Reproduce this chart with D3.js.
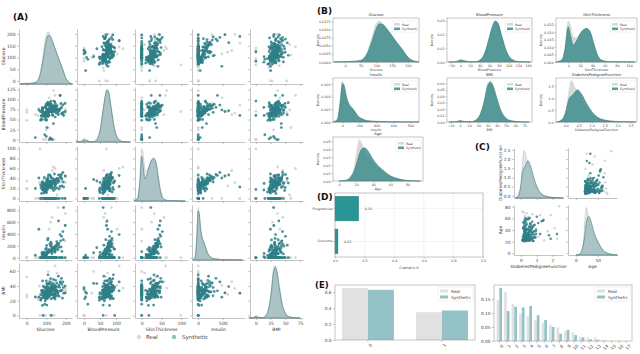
<!DOCTYPE html>
<html>
<head>
<meta charset="utf-8">
<script src="https://cdn.jsdelivr.net/npm/d3@7"></script>
<style>
  body { margin: 0; background: #fff; }
  svg { display: block; font-family: "DejaVu Sans", sans-serif; }
</style>
</head>
<body>
<svg id="chart" width="640" height="354"></svg>
<script>
// ---------- sample rows (synthetic) ----------
var synGlucose = [
  148, 85, 183, 89, 137, 116, 78, 115, 197, 125, 110, 168,
  139, 189, 166, 100, 118, 107, 103, 115, 126, 99, 196, 119,
  143, 125, 147, 97, 145, 117, 109, 158, 88, 92, 122, 103,
  138, 102, 90, 111, 180, 133, 106, 171, 159, 180, 146, 71,
  105, 103, 101, 88, 176, 150, 73, 187, 100, 146, 105, 84,
  133, 44, 141, 114, 99, 109, 109, 95, 146, 100, 139, 126,
  129, 79, 62, 95, 131, 112, 113, 74, 83, 101, 137, 110,
  106, 100, 136, 107, 80, 123, 81, 134, 142, 144, 92, 71,
  93, 122, 163, 151, 125, 81, 85, 126, 96, 144, 83, 95,
  171, 155, 89, 76, 160, 146, 124, 78, 97, 99, 162, 111,
  118, 132, 104, 127, 94, 152, 113, 141, 87, 119, 128, 108,
  135, 97, 121, 157, 102, 116, 130, 91, 174, 124, 106, 139,
  112, 144, 98, 129, 165, 109, 120, 86, 137, 101, 148, 117,
  126, 93, 154, 114, 131, 104, 178, 123, 96, 140, 110, 185
];
var synBP = [
  72, 66, 64, 66, 40, 74, 50, 0, 70, 96, 92, 74,
  80, 60, 72, 8, 84, 74, 30, 70, 88, 84, 90, 80,
  94, 70, 76, 66, 82, 92, 75, 76, 58, 12, 78, 60,
  76, 76, 68, 72, 64, 72, 92, 110, 64, 66, 56, 70,
  58, 60, 50, 66, 90, 66, 50, 68, 66, 90, 72, 60,
  84, 5, 84, 60, 70, 88, 92, 64, 74, 62, 80, 84,
  68, 75, 74, 80, 0, 62, 76, 58, 78, 48, 82, 64,
  64, 78, 70, 86, 80, 82, 72, 60, 84, 82, 62, 48,
  50, 90, 72, 84, 2, 76, 64, 74, 56, 70, 58, 82,
  110, 74, 66, 60, 68, 70, 76, 68, 64, 88, 62, 58,
  70, 78, 62, 74, 68, 82, 76, 72, 64, 86, 70, 66,
  74, 58, 80, 76, 68, 84, 72, 62, 78, 70, 88, 74,
  66, 72, 60, 80, 76, 70, 4, 64, 82, 68, 74, 78,
  72, 68, 84, 70, 62, 76, 80, 74, 66, 96, 70, 86
];
var synSkin = [
  35, 29, 0, 23, 35, 0, 32, 0, 45, 0, 0, 0,
  0, 23, 19, 0, 47, 0, 38, 30, 41, 0, 0, 35,
  33, 26, 0, 15, 19, 0, 0, 36, 11, 0, 31, 33,
  0, 37, 42, 47, 25, 0, 18, 24, 0, 39, 27, 27,
  0, 30, 12, 26, 41, 0, 21, 33, 0, 0, 28, 18,
  0, 20, 36, 0, 25, 42, 31, 13, 28, 26, 0, 41,
  29, 24, 41, 15, 0, 22, 32, 0, 22, 17, 16, 35,
  0, 27, 0, 39, 17, 44, 31, 22, 49, 28, 15, 0,
  14, 22, 47, 38, 0, 33, 28, 29, 19, 24, 0, 31,
  46, 21, 0, 10, 32, 30, 34, 25, 0, 13, 40, 23,
  28, 0, 33, 25, 19, 37, 0, 30, 21, 0, 34, 27,
  0, 18, 29, 36, 23, 0, 32, 15, 43, 26, 0, 38,
  24, 31, 0, 20, 35, 28, 0, 17, 39, 0, 30, 22,
  0, 26, 40, 33, 0, 21, 48, 29, 0, 35, 24, 52
];
var synInsulin = [
  0, 0, 0, 94, 168, 0, 88, 0, 543, 0, 0, 0,
  0, 846, 175, 0, 230, 0, 83, 96, 235, 0, 0, 0,
  146, 115, 0, 140, 110, 0, 0, 245, 54, 0, 192, 0,
  0, 207, 70, 0, 0, 0, 0, 0, 0, 105, 0, 0,
  0, 71, 36, 0, 180, 0, 0, 304, 0, 0, 110, 0,
  0, 40, 0, 0, 0, 325, 0, 38, 0, 70, 0, 200,
  64, 0, 480, 36, 0, 0, 135, 0, 44, 0, 0, 0,
  0, 160, 0, 300, 15, 260, 62, 0, 180, 120, 0, 0,
  18, 0, 620, 210, 0, 76, 0, 135, 0, 90, 0, 60,
  390, 150, 0, 0, 130, 0, 100, 50, 0, 45, 210, 0,
  120, 0, 85, 0, 48, 190, 0, 155, 0, 0, 140, 78,
  0, 55, 0, 220, 0, 0, 165, 0, 285, 0, 0, 175,
  90, 0, 0, 125, 240, 0, 0, 42, 0, 0, 195, 0,
  0, 66, 270, 0, 100, 0, 360, 0, 0, 145, 0, 440
];
var synBMI = [
  33.6, 26.6, 23.3, 28.1, 43.1, 25.6, 31.0, 35.3, 30.5, 0, 37.6, 38.0,
  27.1, 30.1, 25.8, 30.0, 45.8, 29.6, 43.3, 34.6, 39.3, 35.4, 39.8, 29.0,
  36.6, 31.1, 39.4, 23.2, 22.2, 34.1, 36.0, 31.6, 24.8, 15.2, 27.6, 24.0,
  33.2, 32.9, 38.2, 37.1, 34.0, 40.2, 22.7, 45.4, 27.4, 42.0, 29.7, 28.0,
  39.1, 14.0, 24.2, 24.4, 33.7, 34.7, 23.0, 37.7, 46.8, 40.5, 41.5, 0,
  32.9, 25.0, 25.4, 32.8, 29.0, 32.5, 55.0, 19.6, 28.9, 32.9, 28.6, 43.4,
  35.1, 32.0, 24.7, 32.6, 37.7, 43.2, 25.0, 22.4, 29.3, 24.6, 48.8, 32.4,
  36.6, 38.5, 37.1, 26.5, 13.5, 32.0, 46.7, 23.8, 24.7, 33.9, 31.6, 20.4,
  28.7, 49.7, 39.0, 26.1, 22.5, 26.6, 39.6, 28.7, 22.4, 29.5, 34.3, 37.4,
  33.3, 34.0, 31.2, 34.0, 30.5, 31.2, 34.0, 33.7, 28.2, 23.2, 53.2, 34.2,
  30.8, 28.4, 33.5, 36.2, 26.9, 38.1, 31.4, 35.0, 27.3, 32.2, 40.7, 29.9,
  34.5, 25.6, 37.3, 31.8, 29.2, 42.6, 33.0, 28.8, 44.1, 30.3, 36.8, 27.8,
  32.6, 39.5, 26.2, 35.7, 41.2, 29.5, 31.9, 24.3, 37.9, 33.4, 47.5, 28.1,
  35.9, 27.0, 43.8, 30.7, 34.8, 26.4, 50.2, 32.1, 29.0, 38.6, 31.5, 45.3
];
var synDPF = [
  0.627, 0.351, 0.672, 0.167, 2.288, 0.201, 0.248, 0.134, 0.158, 0.232, 0.191, 0.537,
  1.441, 0.398, 0.587, 0.484, 0.551, 0.254, 0.183, 0.529, 0.704, 0.388, 0.451, 0.263,
  0.254, 0.205, 0.257, 0.487, 0.245, 0.337, 0.546, 0.851, 0.267, 0.188, 0.512, 0.966,
  0.420, 0.665, 0.503, 1.390, 0.271, 0.696, 0.235, 0.721, 0.294, 1.893, 0.564, 0.586,
  0.344, 0.305, 0.491, 0.526, 0.342, 0.467, 0.718, 0.254, 0.962, 1.781, 0.173, 0.304,
  0.270, 0.699, 0.258, 0.203, 0.855, 0.845, 0.334, 0.189, 0.867, 0.411, 0.583, 0.231,
  0.396, 0.140, 0.391, 0.370, 0.270, 0.307, 0.140, 0.102, 0.767, 0.237, 0.227, 0.698,
  0.178, 0.324, 0.153, 0.165, 0.258, 0.443, 0.261, 0.277, 0.761, 0.255, 0.130, 0.323,
  0.356, 0.325, 1.222, 0.179, 0.262, 0.283, 0.930, 0.801, 0.207, 0.287, 0.336, 0.247,
  0.199, 0.543, 0.192, 0.391, 0.588, 0.539, 0.220, 0.654, 0.443, 0.223, 0.759, 0.260,
  0.412, 0.285, 0.631, 0.358, 0.219, 0.744, 0.465, 0.318, 0.572, 0.269, 0.938, 0.402,
  0.527, 0.246, 0.381, 0.695, 0.302, 1.102, 0.448, 0.213, 0.617, 0.356, 0.489, 0.829,
  0.338, 0.562, 0.274, 0.431, 1.315, 0.292, 0.503, 0.186, 0.658, 0.372, 0.541, 0.241,
  0.467, 0.315, 0.782, 0.392, 0.256, 0.603, 1.012, 0.344, 0.229, 0.518, 0.426, 0.879
];
var synAge = [
  50, 31, 32, 21, 33, 30, 26, 29, 53, 54, 30, 34,
  57, 59, 51, 32, 31, 31, 33, 32, 27, 50, 41, 29,
  51, 41, 43, 22, 57, 38, 60, 28, 22, 28, 45, 33,
  35, 46, 27, 56, 26, 37, 48, 54, 40, 25, 29, 22,
  31, 24, 22, 26, 30, 58, 42, 21, 41, 31, 44, 22,
  39, 36, 24, 42, 32, 38, 54, 25, 27, 28, 26, 42,
  23, 22, 22, 41, 27, 26, 24, 22, 36, 22, 37, 27,
  45, 26, 43, 24, 21, 34, 42, 60, 21, 40, 24, 22,
  23, 31, 33, 22, 21, 24, 27, 21, 27, 37, 25, 24,
  24, 46, 23, 25, 39, 61, 38, 25, 22, 21, 25, 24,
  28, 35, 24, 42, 26, 33, 29, 47, 23, 31, 38, 25,
  36, 22, 30, 44, 27, 52, 32, 24, 39, 29, 34, 48,
  26, 40, 23, 33, 55, 28, 31, 22, 43, 27, 37, 25,
  32, 24, 46, 29, 35, 23, 63, 30, 26, 41, 28, 49
];

// ---------- sample rows (real, mostly hidden under synthetic) ----------
var realGlucose = [0, 0, 44, 57, 62, 65, 68, 199, 197, 196, 198, 0, 84, 95, 129, 137, 145, 155, 100, 110, 120, 130, 90, 105, 160, 175, 115, 125, 140, 87, 99, 108, 122, 150, 112, 134];
var realBP = [74, 68, 62, 60, 78, 72, 70, 76, 70, 90, 66, 48, 0, 0, 0, 122, 110, 74, 24, 30, 0, 62, 68, 74, 86, 88, 104, 76, 0, 58, 64, 72, 70, 78, 66, 80];
var realSkin = [20, 35, 0, 0, 0, 32, 99, 43, 45, 0, 32, 20, 0, 0, 0, 63, 60, 7, 0, 0, 0, 56, 30, 28, 0, 33, 0, 26, 0, 38, 17, 0, 25, 0, 35, 30];
var realInsulin = [0, 0, 0, 0, 0, 0, 0, 0, 543, 280, 744, 0, 0, 0, 0, 0, 0, 0, 0, 0, 0, 680, 0, 0, 846, 0, 480, 0, 0, 0, 0, 0, 600, 0, 135, 0];
var realBMI = [27.7, 52.3, 24.6, 21.7, 25.2, 39.6, 0, 33.6, 30.5, 39.8, 36.6, 24.7, 0, 0, 0, 37.0, 67.1, 57.3, 30.0, 59.4, 0, 45.7, 34.3, 30.1, 30.1, 48.3, 40.6, 31.0, 0, 28.0, 35.0, 38.0, 28.4, 29.3, 34.1, 36.2];
var realDPF = [0.299, 0.405, 0.254, 0.735, 0.218, 0.261, 2.42, 0.383, 0.158, 0.451, 1.476, 0.143, 0.26, 0.328, 0.42, 0.18, 0.5, 0.63, 1.22, 0.1, 0.46, 2.137, 0.66, 0.4, 0.398, 0.7, 1.7, 0.3, 0.55, 0.25, 0.34, 1.9, 0.2, 2.3, 0.6, 1.1];
var realAge = [21, 26, 36, 67, 24, 45, 81, 69, 53, 41, 22, 23, 41, 57, 62, 70, 35, 46, 66, 72, 28, 43, 31, 27, 59, 28, 38, 30, 40, 64, 22, 66, 21, 25, 52, 29];

// ---------- density curves ----------
var glucoseGrid = [-35, 0, 25, 50, 70, 85, 100, 110, 120, 135, 150, 165, 180, 200, 220, 235];
var glucoseReal = [0, 0.0002, 0.0002, 0.0006, 0.0030, 0.0075, 0.0120, 0.0127, 0.0118, 0.0097, 0.0077, 0.0058, 0.0040, 0.0014, 0.0002, 0];
var glucoseSyn = [0, 0.0001, 0.0002, 0.0005, 0.0025, 0.0062, 0.0105, 0.0118, 0.0116, 0.0100, 0.0080, 0.0060, 0.0042, 0.0015, 0.0003, 0];

var bpGrid = [-25, -10, 0, 8, 18, 30, 40, 50, 60, 66, 72, 78, 85, 95, 105, 120, 145];
var bpReal = [0, 0.0003, 0.0020, 0.0012, 0.0002, 0.0002, 0.0012, 0.0060, 0.0180, 0.0255, 0.0295, 0.0275, 0.0195, 0.0080, 0.0025, 0.0004, 0];
var bpSyn = [0, 0.0002, 0.0012, 0.0009, 0.0002, 0.0002, 0.0013, 0.0065, 0.0185, 0.0260, 0.0300, 0.0280, 0.0195, 0.0078, 0.0022, 0.0003, 0];

var skinGrid = [-20, -10, -5, 0, 4, 8, 13, 19, 25, 30, 36, 42, 48, 55, 65, 80, 110];
var skinReal = [0, 0.002, 0.011, 0.0275, 0.024, 0.017, 0.016, 0.0185, 0.0215, 0.022, 0.019, 0.011, 0.004, 0.0012, 0.0004, 0.0001, 0];
var skinSyn = [0, 0.0015, 0.009, 0.0235, 0.0175, 0.0115, 0.0135, 0.0185, 0.0215, 0.0225, 0.0205, 0.0125, 0.005, 0.0012, 0.0003, 0.0001, 0];

var insulinGrid = [-110, -60, -25, 0, 20, 50, 80, 110, 140, 180, 230, 300, 400, 550, 700, 900];
var insulinReal = [0, 0.0004, 0.0035, 0.0065, 0.0056, 0.0036, 0.0026, 0.0022, 0.0017, 0.0010, 0.0005, 0.0002, 0.0001, 0.00004, 0.00002, 0];
var insulinSyn = [0, 0.0004, 0.0032, 0.0061, 0.0058, 0.0039, 0.0028, 0.0023, 0.0018, 0.0010, 0.0005, 0.0002, 0.0001, 0.00003, 0.00001, 0];

var bmiGrid = [-12, -4, 0, 5, 12, 18, 22, 26, 30, 33, 36, 40, 45, 50, 56, 65, 75];
var bmiReal = [0, 0.0008, 0.0030, 0.0010, 0.0004, 0.004, 0.013, 0.033, 0.060, 0.064, 0.053, 0.032, 0.014, 0.005, 0.0015, 0.0003, 0];
var bmiSyn = [0, 0.0005, 0.0018, 0.0006, 0.0005, 0.004, 0.012, 0.030, 0.056, 0.062, 0.056, 0.037, 0.016, 0.006, 0.0018, 0.0004, 0];

var dpfGrid = [-0.35, -0.15, 0, 0.1, 0.2, 0.25, 0.32, 0.45, 0.6, 0.8, 1.0, 1.2, 1.5, 1.9, 2.3, 2.7];
var dpfReal = [0, 0.08, 0.40, 1.15, 1.72, 1.70, 1.50, 1.28, 1.00, 0.62, 0.36, 0.20, 0.08, 0.03, 0.01, 0];
var dpfSyn = [0, 0.10, 0.45, 0.90, 1.08, 1.12, 1.20, 1.35, 1.18, 0.78, 0.44, 0.22, 0.08, 0.025, 0.008, 0];

var ageGrid = [0, 8, 14, 18, 21, 24, 27, 30, 35, 40, 45, 50, 60, 70, 80, 95];
var ageReal = [0, 0.0004, 0.004, 0.018, 0.040, 0.052, 0.046, 0.037, 0.029, 0.023, 0.018, 0.013, 0.006, 0.0025, 0.0008, 0];
var ageSyn = [0, 0.001, 0.006, 0.014, 0.024, 0.035, 0.041, 0.042, 0.036, 0.027, 0.020, 0.015, 0.0065, 0.0025, 0.0007, 0];

// ---------- panel (D) ----------
var dCategories = ['Pregnancies', 'Outcome'];
var dValues = [0.16, 0.02];
var dTicks = [0, 0.2, 0.4, 0.6, 0.8, 1.0];

// ---------- panel (E) ----------
var outcomeCats = ['0', '1'];
var outcomeReal = [0.651, 0.349];
var outcomeSyn = [0.630, 0.370];
var pregCats = ['0', '1', '2', '3', '4', '5', '6', '7', '8', '9', '10', '11', '12', '13', '14', '15', '16', '17'];
var pregReal = [0.145, 0.175, 0.133, 0.098, 0.088, 0.074, 0.065, 0.058, 0.049, 0.036, 0.031, 0.014, 0.012, 0.013, 0.003, 0.001, 0, 0.001];
var pregSyn = [0.190, 0.107, 0.122, 0.120, 0.125, 0.092, 0.075, 0.050, 0.026, 0.040, 0.021, 0.013, 0.006, 0.004, 0.001, 0, 0, 0];

// ---------- tick labels ----------
var aXTicks = { Glucose: [0, 100, 200], BloodPressure: [0, 50, 100], SkinThickness: [0, 50, 100], Insulin: [0, 500], BMI: [0, 25, 50, 75] };
var aYTicks = { Glucose: [0, 50, 100, 150, 200], BloodPressure: [0, 25, 50, 75, 100, 125], SkinThickness: [0, 20, 40, 60, 80, 100], Insulin: [0, 200, 400, 600, 800], BMI: [0, 20, 40, 60] };
var cXTicks = { DiabetesPedigreeFunction: [0, 1, 2], Age: [0, 50] };
var cYTicks = { DiabetesPedigreeFunction: [0, 0.5, 1, 1.5, 2, 2.5], Age: [0, 20, 40, 60, 80] };
var bXTicks = {
  Glucose: [0, 50, 100, 150, 200], BloodPressure: [-20, 0, 20, 40, 60, 80, 100, 120, 140],
  SkinThickness: [0, 20, 40, 60, 80, 100], Insulin: [0, 200, 400, 600, 800],
  BMI: [-10, 0, 10, 20, 30, 40, 50, 60, 70], DiabetesPedigreeFunction: [0, 0.5, 1, 1.5, 2, 2.5], Age: [0, 20, 40, 60, 80]
};
var bYTicks = {
  Glucose: [0, 0.0025, 0.005, 0.0075, 0.01, 0.0125], BloodPressure: [0, 0.01, 0.02, 0.03],
  SkinThickness: [0, 0.005, 0.01, 0.015, 0.02, 0.025], Insulin: [0, 0.002, 0.004, 0.006],
  BMI: [0, 0.01, 0.02, 0.03, 0.04, 0.05, 0.06], DiabetesPedigreeFunction: [0, 0.5, 1, 1.5], Age: [0, 0.01, 0.02, 0.03, 0.04, 0.05]
};

// lookup tables built from the arrays above
var samples = {
  real: { Glucose: realGlucose, BloodPressure: realBP, SkinThickness: realSkin, Insulin: realInsulin, BMI: realBMI, DiabetesPedigreeFunction: realDPF, Age: realAge },
  syn: { Glucose: synGlucose, BloodPressure: synBP, SkinThickness: synSkin, Insulin: synInsulin, BMI: synBMI, DiabetesPedigreeFunction: synDPF, Age: synAge }
};
var kdeGrid = { Glucose: glucoseGrid, BloodPressure: bpGrid, SkinThickness: skinGrid, Insulin: insulinGrid, BMI: bmiGrid, DiabetesPedigreeFunction: dpfGrid, Age: ageGrid };
var kdeReal = { Glucose: glucoseReal, BloodPressure: bpReal, SkinThickness: skinReal, Insulin: insulinReal, BMI: bmiReal, DiabetesPedigreeFunction: dpfReal, Age: ageReal };
var kdeSyn = { Glucose: glucoseSyn, BloodPressure: bpSyn, SkinThickness: skinSyn, Insulin: insulinSyn, BMI: bmiSyn, DiabetesPedigreeFunction: dpfSyn, Age: ageSyn };

var REAL_PT = '#d2d2d2';
var SYN_PT = '#2f7f87';

var svg = d3.select('#chart');
svg.append('rect').attr('width', 640).attr('height', 354).attr('fill', '#fff');

function styleAxis(g, fs) {
  g.attr('font-family', '"DejaVu Sans", sans-serif').attr('font-size', fs);
  g.select('.domain').attr('stroke', '#888').attr('stroke-width', 0.5);
  g.selectAll('.tick line').attr('stroke', '#888').attr('stroke-width', 0.5);
  g.selectAll('.tick text').attr('fill', '#444');
}

function kdePath(grid, vals, x, y) {
  return d3.area()
    .x(function(d, i) { return x(grid[i]); })
    .y0(y(0))
    .y1(function(d) { return y(d); })
    .curve(d3.curveMonotoneX)(vals);
}

function text(x, y, s, fs, opts) {
  opts = opts || {};
  var t = svg.append('text')
    .attr('x', x).attr('y', y)
    .attr('font-size', fs)
    .attr('fill', opts.fill || '#333')
    .attr('text-anchor', opts.anchor || 'middle')
    .text(s);
  if (opts.bold) t.attr('font-weight', 'bold');
  if (opts.rotate) t.attr('transform', 'rotate(-90,' + x + ',' + y + ')');
  return t;
}

var noLabel = function() { return ''; };

/**
 * Seaborn-like pair grid: kde on the diagonal, scatter elsewhere.
 */
function drawPairGrid(vars, lefts, tops, w, h, xDom, yDom, xTicks, yTicks, xFmt, yFmt, fs, rad, ylabX) {
  vars.forEach(function(rv, r) {
    var y = d3.scaleLinear().domain(yDom[rv]).range([tops[r] + h, tops[r]]);
    vars.forEach(function(cv, c) {
      var x = d3.scaleLinear().domain(xDom[cv]).range([lefts[c], lefts[c] + w]);
      var cell = svg.append('g');
      if (r === c) {
        var peak = d3.max(kdeReal[cv].concat(kdeSyn[cv]));
        var ky = d3.scaleLinear().domain([0, peak * 1.05]).range([tops[r] + h, tops[r]]);
        cell.append('path')
          .attr('d', kdePath(kdeGrid[cv], kdeReal[cv], x, ky))
          .attr('fill', '#d6d6d6').attr('fill-opacity', 0.6)
          .attr('stroke', '#c6c6c6').attr('stroke-width', 0.7);
        cell.append('path')
          .attr('d', kdePath(kdeGrid[cv], kdeSyn[cv], x, ky))
          .attr('fill', '#6f9fa1').attr('fill-opacity', 0.5)
          .attr('stroke', '#4d8789').attr('stroke-width', 0.7);
      } else {
        ['real', 'syn'].forEach(function(k) {
          var ys = samples[k][rv];
          cell.append('g')
            .selectAll('circle')
            .data(samples[k][cv])
            .enter()
            .append('circle')
            .attr('cx', function(d) { return x(d); })
            .attr('cy', function(d, i) { return y(ys[i]); })
            .attr('r', rad)
            .attr('fill', k === 'syn' ? SYN_PT : REAL_PT)
            .attr('fill-opacity', k === 'syn' ? 0.85 : 0.9);
        });
      }
      var ya = cell.append('g')
        .attr('transform', 'translate(' + lefts[c] + ',0)')
        .call(d3.axisLeft(y).tickValues(yTicks[rv]).tickSize(2).tickSizeOuter(0).tickPadding(1.5)
          .tickFormat(c === 0 ? yFmt[rv] : noLabel));
      styleAxis(ya, fs);
      var xa = cell.append('g')
        .attr('transform', 'translate(0,' + (tops[r] + h) + ')')
        .call(d3.axisBottom(x).tickValues(xTicks[cv]).tickSize(2).tickSizeOuter(0).tickPadding(1.5)
          .tickFormat(r === vars.length - 1 ? xFmt[cv] : noLabel));
      styleAxis(xa, fs);
    });
    text(ylabX, tops[r] + h / 2, rv, fs, { rotate: true });
  });
  vars.forEach(function(cv, c) {
    text(lefts[c] + w / 2, tops[vars.length - 1] + h + 13, cv, fs);
  });
}

// ================= (A) =================
text(13, 20, '(A)', 9, { bold: true, anchor: 'start', fill: '#111' });
var pairVars = ['Glucose', 'BloodPressure', 'SkinThickness', 'Insulin', 'BMI'];
var intFmt = d3.format('d');
var aFmt = {};
pairVars.forEach(function(v) { aFmt[v] = intFmt; });
drawPairGrid(pairVars,
  [19, 77, 135, 192, 250], [29, 87, 146, 205, 263], 53, 55,
  { Glucose: [-40, 232], BloodPressure: [-22, 144], SkinThickness: [-17, 117], Insulin: [-126, 950], BMI: [-10, 80] },
  { Glucose: [-13, 221], BloodPressure: [-6, 131], SkinThickness: [-5, 105], Insulin: [-40, 890], BMI: [-3.5, 71] },
  aXTicks, aYTicks, aFmt, aFmt, 4.5, 1.4, 5);

// legend of (A)
svg.append('circle').attr('cx', 139).attr('cy', 337).attr('r', 2.2).attr('fill', '#dcdcdc');
text(146, 339, 'Real', 5.5, { anchor: 'start', fill: '#444' });
svg.append('circle').attr('cx', 174).attr('cy', 337).attr('r', 2.2).attr('fill', '#8fbfc3');
text(182, 339, 'Synthetic', 5.5, { anchor: 'start', fill: '#444' });

// ================= (B) =================
text(317, 14, '(B)', 9, { bold: true, anchor: 'start', fill: '#111' });
var bVars = ['Glucose', 'BloodPressure', 'SkinThickness', 'Insulin', 'BMI', 'DiabetesPedigreeFunction', 'Age'];
var bBoxes = [
  [333, 18, 86, 44], [447, 18, 85, 44], [556, 18, 81, 44],
  [333, 78, 86, 44], [447, 78, 85, 44], [556, 78, 81, 44],
  [333, 137, 90, 44]
];
var bXDom = {
  Glucose: [-38, 235], BloodPressure: [-28, 148], SkinThickness: [-20, 113], Insulin: [-110, 900],
  BMI: [-14, 78], DiabetesPedigreeFunction: [-0.38, 2.75], Age: [-7, 98]
};
var bYFmt = {
  Glucose: d3.format('.4f'), BloodPressure: d3.format('.2f'), SkinThickness: d3.format('.3f'), Insulin: d3.format('.3f'),
  BMI: d3.format('.2f'), DiabetesPedigreeFunction: d3.format('.1f'), Age: d3.format('.2f')
};
var bXFmt = {
  Glucose: intFmt, BloodPressure: intFmt, SkinThickness: intFmt, Insulin: intFmt, BMI: intFmt,
  DiabetesPedigreeFunction: d3.format('.1f'), Age: intFmt
};

bVars.forEach(function(v, i) {
  var b = bBoxes[i], left = b[0], top = b[1], w = b[2], h = b[3];
  var x = d3.scaleLinear().domain(bXDom[v]).range([left, left + w]);
  var peak = d3.max(kdeReal[v].concat(kdeSyn[v]));
  var y = d3.scaleLinear().domain([0, peak * 1.07]).range([top + h, top]);
  var g = svg.append('g');
  g.append('path')
    .attr('d', kdePath(kdeGrid[v], kdeReal[v], x, y))
    .attr('fill', '#d9d9d9').attr('stroke', '#cdcdcd').attr('stroke-width', 0.5);
  g.append('path')
    .attr('d', kdePath(kdeGrid[v], kdeSyn[v], x, y))
    .attr('fill', '#2f8687').attr('fill-opacity', 0.78)
    .attr('stroke', '#2b7576').attr('stroke-width', 0.5);
  var xa = g.append('g').attr('transform', 'translate(0,' + (top + h) + ')')
    .call(d3.axisBottom(x).tickValues(bXTicks[v]).tickSize(1.5).tickSizeOuter(0).tickPadding(1).tickFormat(bXFmt[v]));
  styleAxis(xa, 3.3);
  xa.select('.domain').remove();
  var ya = g.append('g').attr('transform', 'translate(' + left + ',0)')
    .call(d3.axisLeft(y).tickValues(bYTicks[v]).tickSize(1.5).tickSizeOuter(0).tickPadding(1).tickFormat(bYFmt[v]));
  styleAxis(ya, 3.3);
  ya.select('.domain').remove();
  g.append('rect').attr('x', left).attr('y', top).attr('width', w).attr('height', h)
    .attr('fill', 'none').attr('stroke', '#8c8c8c').attr('stroke-width', 0.5);
  text(left + w / 2, top - 2, v, 3.8);
  text(left + w / 2, top + h + 9, v, 3.3, { fill: '#444' });
  text(left - 14, top + h / 2, 'Density', 3.3, { rotate: true, fill: '#444' });
  // legend
  var lx = left + w - 27, ly = top + 3;
  g.append('rect').attr('x', lx).attr('y', ly).attr('width', 25).attr('height', 11)
    .attr('fill', '#fff').attr('fill-opacity', 0.8).attr('stroke', '#e0e0e0').attr('stroke-width', 0.4);
  g.append('rect').attr('x', lx + 2).attr('y', ly + 2).attr('width', 6).attr('height', 2.6).attr('fill', '#d9d9d9');
  g.append('rect').attr('x', lx + 2).attr('y', ly + 6.5).attr('width', 6).attr('height', 2.6).attr('fill', '#599e9f');
  text(lx + 10, ly + 4.5, 'Real', 3.2, { anchor: 'start', fill: '#444' });
  text(lx + 10, ly + 9, 'Synthetic', 3.2, { anchor: 'start', fill: '#444' });
});

// ================= (C) =================
text(475, 150, '(C)', 9, { bold: true, anchor: 'start', fill: '#111' });
var cVars = ['DiabetesPedigreeFunction', 'Age'];
drawPairGrid(cVars,
  [514, 568], [148, 205], 49, 50,
  { DiabetesPedigreeFunction: [-0.43, 2.67], Age: [-18, 94] },
  { DiabetesPedigreeFunction: [-0.12, 2.6], Age: [-3, 83] },
  cXTicks, cYTicks,
  { DiabetesPedigreeFunction: intFmt, Age: intFmt },
  { DiabetesPedigreeFunction: d3.format('.1f'), Age: intFmt },
  4.3, 1.25, 502);

// ================= (D) =================
text(317, 200, '(D)', 9, { bold: true, anchor: 'start', fill: '#111' });
var dx = d3.scaleLinear().domain([0, 1]).range([335, 483]);
var dy = d3.scaleBand().domain(dCategories).range([193, 257]).paddingInner(0.25).paddingOuter(0.1);
var dG = svg.append('g');
dG.selectAll('.vgrid').data(dTicks).enter().append('line')
  .attr('x1', function(d) { return dx(d); }).attr('x2', function(d) { return dx(d); })
  .attr('y1', 193).attr('y2', 257).attr('stroke', '#e8e8e8').attr('stroke-width', 0.5);
dG.selectAll('.hgrid').data(dCategories).enter().append('line')
  .attr('x1', 335).attr('x2', 483)
  .attr('y1', function(d) { return dy(d) + dy.bandwidth() / 2; })
  .attr('y2', function(d) { return dy(d) + dy.bandwidth() / 2; })
  .attr('stroke', '#e8e8e8').attr('stroke-width', 0.5);
dG.selectAll('.dbar').data(dValues).enter().append('rect')
  .attr('x', dx(0))
  .attr('y', function(d, i) { return dy(dCategories[i]); })
  .attr('width', function(d) { return dx(d) - dx(0); })
  .attr('height', dy.bandwidth())
  .attr('fill', '#2b9494').attr('stroke', '#1f7777').attr('stroke-width', 0.4);
dG.selectAll('.dval').data(dValues).enter().append('text')
  .attr('x', function(d) { return dx(d) + 6; })
  .attr('y', function(d, i) { return dy(dCategories[i]) + dy.bandwidth() / 2 + 1.2; })
  .attr('font-size', 3.3).attr('fill', '#444')
  .text(function(d) { return d3.format('.2f')(d); });
var dxa = dG.append('g').attr('transform', 'translate(0,257)')
  .call(d3.axisBottom(dx).tickValues(dTicks).tickSize(1.5).tickSizeOuter(0).tickPadding(1).tickFormat(d3.format('.1f')));
styleAxis(dxa, 3.3);
dxa.select('.domain').remove();
var dya = dG.append('g').attr('transform', 'translate(335,0)')
  .call(d3.axisLeft(dy).tickSize(1.5).tickSizeOuter(0).tickPadding(1));
styleAxis(dya, 3.3);
dya.select('.domain').remove();
dG.append('rect').attr('x', 335).attr('y', 193).attr('width', 148).attr('height', 64)
  .attr('fill', 'none').attr('stroke', '#8c8c8c').attr('stroke-width', 0.5);
text(409, 269, "Cramér's V", 3.5, { fill: '#444' });

// ================= (E) =================
text(315, 288, '(E)', 8.5, { bold: true, anchor: 'start', fill: '#111' });

function drawGroupedBars(cats, realVals, synVals, left, top, w, h, yMax, yTicks, yFmt, padIn, padOut) {
  var x = d3.scaleBand().domain(cats).range([left, left + w]).paddingInner(padIn).paddingOuter(padOut);
  var inner = d3.scaleBand().domain(['Real', 'Synthetic']).range([0, x.bandwidth()]);
  var y = d3.scaleLinear().domain([0, yMax]).range([top + h, top]);
  var g = svg.append('g');
  g.selectAll('.rbar').data(realVals).enter().append('rect')
    .attr('x', function(d, i) { return x(cats[i]) + inner('Real'); })
    .attr('y', function(d) { return y(d); })
    .attr('width', inner.bandwidth())
    .attr('height', function(d) { return y(0) - y(d); })
    .attr('fill', '#e1e1e1');
  g.selectAll('.sbar').data(synVals).enter().append('rect')
    .attr('x', function(d, i) { return x(cats[i]) + inner('Synthetic'); })
    .attr('y', function(d) { return y(d); })
    .attr('width', inner.bandwidth())
    .attr('height', function(d) { return y(0) - y(d); })
    .attr('fill', '#94c2c6');
  var ya = g.append('g').attr('transform', 'translate(' + left + ',0)')
    .call(d3.axisLeft(y).tickValues(yTicks).tickSize(2).tickSizeOuter(0).tickPadding(1.5).tickFormat(yFmt));
  styleAxis(ya, 4.3);
  ya.select('.domain').remove();
  var xa = g.append('g').attr('transform', 'translate(0,' + (top + h) + ')')
    .call(d3.axisBottom(x).tickSize(2).tickSizeOuter(0).tickPadding(1.5));
  styleAxis(xa, 4.3);
  xa.select('.domain').remove();
  xa.selectAll('.tick text')
    .attr('text-anchor', 'end')
    .attr('dy', '0.3em')
    .attr('transform', 'translate(1,2) rotate(-45)');
  g.append('rect').attr('x', left).attr('y', top).attr('width', w).attr('height', h)
    .attr('fill', 'none').attr('stroke', '#8c8c8c').attr('stroke-width', 0.5);
  // legend
  var lx = left + w - 37, ly = top + 2;
  g.append('rect').attr('x', lx).attr('y', ly).attr('width', 35).attr('height', 14)
    .attr('fill', '#fff').attr('fill-opacity', 0.85).attr('stroke', '#dddddd').attr('stroke-width', 0.4);
  g.append('rect').attr('x', lx + 2).attr('y', ly + 2.5).attr('width', 8).attr('height', 3).attr('fill', '#e1e1e1');
  g.append('rect').attr('x', lx + 2).attr('y', ly + 8.5).attr('width', 8).attr('height', 3).attr('fill', '#94c2c6');
  text(lx + 13, ly + 5.6, 'Real', 4.2, { anchor: 'start', fill: '#444' });
  text(lx + 13, ly + 11.6, 'Synthetic', 4.2, { anchor: 'start', fill: '#444' });
}

drawGroupedBars(outcomeCats, outcomeReal, outcomeSyn, 335, 285, 140, 55, 0.69,
  [0, 0.2, 0.4, 0.6], d3.format('.1f'), 0.3, 0.095);
drawGroupedBars(pregCats, pregReal, pregSyn, 494, 285, 138, 56, 0.2,
  [0, 0.05, 0.1, 0.15], d3.format('.2f'), 0.28, 0.35);
</script>
</body>
</html>
